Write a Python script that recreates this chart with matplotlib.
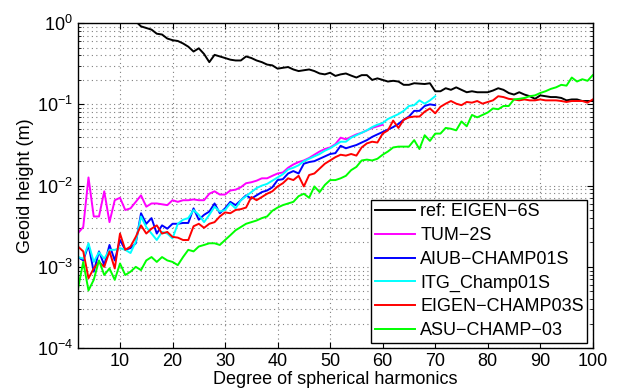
import numpy as np
import matplotlib
matplotlib.use('Agg')
from matplotlib import pyplot as plt
from matplotlib.ticker import LogLocator, NullFormatter

plt.rcParams['font.family'] = ['Liberation Sans', 'DejaVu Sans']
plt.rcParams['mathtext.fontset'] = 'custom'
plt.rcParams['mathtext.rm'] = 'Liberation Sans'
plt.rcParams['mathtext.it'] = 'Liberation Sans:italic'

# geoid degree amplitudes (m) per degree
deg_eigen6s = list(range(2, 101))
eigen6s = [3.2, 2.6, 2.2, 1.9, 1.7, 1.55, 1.45, 1.35, 1.25, 1.18, 1.1,
           1.05, 0.912, 0.871, 0.832, 0.741, 0.724, 0.646, 0.617, 0.603, 0.562,
           0.513, 0.447, 0.490, 0.417, 0.331, 0.407, 0.389, 0.372, 0.355, 0.347,
           0.347, 0.389, 0.372, 0.347, 0.331, 0.309, 0.302, 0.275, 0.282, 0.288,
           0.269, 0.257, 0.263, 0.269, 0.257, 0.240, 0.234, 0.245, 0.224, 0.234,
           0.240, 0.226, 0.214, 0.229, 0.229, 0.200, 0.209, 0.200, 0.191, 0.195,
           0.191, 0.174, 0.174, 0.182, 0.180, 0.178, 0.182, 0.145, 0.145, 0.158,
           0.151, 0.162, 0.151, 0.141, 0.145, 0.141, 0.141, 0.141, 0.148, 0.158,
           0.151, 0.138, 0.132, 0.141, 0.132, 0.126, 0.117, 0.129, 0.126, 0.123,
           0.123, 0.120, 0.112, 0.115, 0.115, 0.110, 0.110, 0.110]

deg_tum2s = list(range(2, 61))
tum2s = [2.6e-3, 3.09e-3, 1.26e-2, 4.17e-3, 4.17e-3, 8.51e-3, 3.55e-3, 6.61e-3,
         7.08e-3, 5.01e-3, 5.25e-3, 6.31e-3, 7.59e-3, 5.50e-3, 6.03e-3, 6.03e-3,
         5.89e-3, 5.75e-3, 6.61e-3, 6.31e-3, 6.61e-3, 6.61e-3, 6.76e-3, 6.61e-3,
         6.61e-3, 7.94e-3, 8.51e-3, 7.76e-3, 7.76e-3, 8.71e-3, 8.91e-3, 9.55e-3,
         1.07e-2, 1.10e-2, 1.15e-2, 1.23e-2, 1.23e-2, 1.32e-2, 1.41e-2, 1.45e-2,
         1.66e-2, 1.82e-2, 1.95e-2, 2.04e-2, 2.19e-2, 2.40e-2, 2.63e-2, 2.82e-2,
         2.95e-2, 3.24e-2, 3.89e-2, 3.72e-2, 3.98e-2, 4.27e-2, 4.47e-2, 4.79e-2,
         5.13e-2, 5.37e-2, 5.62e-2]

deg_aiub = list(range(2, 71))
aiub = [1.32e-3, 1.20e-3, 1.86e-3, 8.71e-4, 1.55e-3, 1.05e-3, 1.86e-3, 1.20e-3,
        2.14e-3, 1.62e-3, 1.70e-3, 1.95e-3, 4.57e-3, 3.39e-3, 3.98e-3, 2.57e-3,
        3.24e-3, 2.95e-3, 3.39e-3, 3.39e-3, 3.47e-3, 3.47e-3, 5.25e-3, 3.80e-3,
        4.37e-3, 4.79e-3, 6.03e-3, 4.57e-3, 5.25e-3, 6.31e-3, 5.75e-3, 6.61e-3,
        7.59e-3, 6.92e-3, 7.59e-3, 8.32e-3, 8.71e-3, 9.55e-3, 1.17e-2, 1.20e-2,
        1.41e-2, 1.51e-2, 1.41e-2, 1.86e-2, 1.95e-2, 2.00e-2, 2.14e-2, 2.29e-2,
        2.45e-2, 2.51e-2, 3.09e-2, 2.88e-2, 3.02e-2, 3.16e-2, 3.39e-2, 3.63e-2,
        3.98e-2, 4.27e-2, 4.57e-2, 4.90e-2, 5.25e-2, 5.75e-2, 6.46e-2, 7.08e-2,
        8.32e-2, 8.32e-2, 9.55e-2, 1.00e-1, 9.77e-2]

deg_itg = list(range(2, 71))
itg = [1.32e-3, 1.26e-3, 1.95e-3, 1.15e-3, 1.51e-3, 1.26e-3, 1.62e-3, 1.62e-3,
       1.70e-3, 1.62e-3, 1.48e-3, 2.04e-3, 4.17e-3, 3.09e-3, 2.57e-3, 2.14e-3,
       2.69e-3, 2.57e-3, 2.24e-3, 3.39e-3, 3.80e-3, 3.98e-3, 5.01e-3, 4.37e-3,
       3.55e-3, 4.37e-3, 5.50e-3, 4.79e-3, 5.01e-3, 6.03e-3, 5.25e-3, 6.61e-3,
       7.41e-3, 8.32e-3, 9.33e-3, 1.00e-2, 1.05e-2, 1.15e-2, 1.26e-2, 1.38e-2,
       1.58e-2, 1.66e-2, 1.78e-2, 2.00e-2, 2.14e-2, 2.29e-2, 2.45e-2, 2.69e-2,
       2.88e-2, 3.16e-2, 3.47e-2, 3.47e-2, 3.89e-2, 4.17e-2, 4.47e-2, 4.79e-2,
       5.25e-2, 5.62e-2, 5.89e-2, 6.61e-2, 7.08e-2, 7.59e-2, 8.32e-2, 9.55e-2,
       9.77e-2, 1.12e-1, 1.02e-1, 1.12e-1, 1.26e-1]

deg_eigen3s = list(range(2, 101))
eigen3s = [1.78e-3, 1.55e-3, 7.24e-4, 9.55e-4, 1.15e-3, 1.00e-3, 1.55e-3, 9.55e-4,
           2.57e-3, 1.62e-3, 1.78e-3, 2.34e-3, 3.24e-3, 2.57e-3, 2.95e-3, 3.24e-3,
           2.57e-3, 2.69e-3, 2.34e-3, 2.29e-3, 2.14e-3, 2.14e-3, 3.16e-3, 3.39e-3,
           3.02e-3, 3.39e-3, 3.55e-3, 4.17e-3, 4.68e-3, 4.57e-3, 5.01e-3, 5.13e-3,
           5.37e-3, 7.24e-3, 6.61e-3, 7.24e-3, 7.94e-3, 8.51e-3, 9.77e-3, 1.07e-2,
           1.23e-2, 1.17e-2, 1.32e-2, 9.77e-3, 1.35e-2, 1.41e-2, 1.62e-2, 1.86e-2,
           2.04e-2, 2.24e-2, 2.40e-2, 2.34e-2, 2.45e-2, 2.34e-2, 2.95e-2, 3.31e-2,
           3.47e-2, 3.39e-2, 4.37e-2, 4.79e-2, 6.31e-2, 5.13e-2, 6.46e-2, 6.92e-2,
           7.08e-2, 7.08e-2, 8.13e-2, 8.91e-2, 7.76e-2, 9.33e-2, 1.02e-1, 1.10e-1,
           1.02e-1, 9.77e-2, 1.07e-1, 1.05e-1, 1.10e-1, 1.02e-1, 1.07e-1, 1.12e-1,
           1.26e-1, 1.23e-1, 1.17e-1, 1.15e-1, 1.12e-1, 1.15e-1, 1.12e-1, 1.12e-1,
           1.15e-1, 1.12e-1, 1.12e-1, 1.12e-1, 1.10e-1, 1.07e-1, 1.10e-1, 1.10e-1,
           1.10e-1, 1.05e-1, 1.15e-1]

deg_asu = list(range(2, 101))
asu = [5.37e-4, 1.15e-3, 5.13e-4, 6.92e-4, 1.20e-3, 7.94e-4, 9.55e-4, 6.92e-4,
       1.10e-3, 7.94e-4, 8.71e-4, 1.00e-3, 9.12e-4, 1.20e-3, 1.32e-3, 1.15e-3,
       1.32e-3, 1.20e-3, 1.15e-3, 1.05e-3, 1.32e-3, 1.62e-3, 1.55e-3, 1.78e-3,
       1.86e-3, 1.95e-3, 1.95e-3, 1.86e-3, 2.14e-3, 2.45e-3, 2.82e-3, 3.09e-3,
       3.39e-3, 3.55e-3, 3.72e-3, 3.98e-3, 4.17e-3, 4.90e-3, 5.37e-3, 5.75e-3,
       6.03e-3, 6.31e-3, 7.41e-3, 7.94e-3, 7.08e-3, 9.77e-3, 8.32e-3, 1.02e-2,
       1.17e-2, 1.17e-2, 1.23e-2, 1.32e-2, 1.55e-2, 1.70e-2, 2.04e-2, 2.09e-2,
       2.04e-2, 2.14e-2, 2.40e-2, 2.63e-2, 2.95e-2, 3.02e-2, 3.02e-2, 3.02e-2,
       3.63e-2, 2.82e-2, 4.17e-2, 3.55e-2, 4.37e-2, 4.37e-2, 5.13e-2, 5.01e-2,
       4.79e-2, 6.17e-2, 5.37e-2, 7.41e-2, 6.92e-2, 7.41e-2, 7.94e-2, 8.91e-2,
       8.71e-2, 9.55e-2, 9.55e-2, 1.15e-1, 1.17e-1, 1.20e-1, 1.26e-1, 1.29e-1,
       1.38e-1, 1.45e-1, 1.55e-1, 1.62e-1, 1.74e-1, 1.70e-1, 2.14e-1, 1.91e-1,
       2.04e-1, 1.95e-1, 2.29e-1]

series = [
    (deg_eigen6s, eigen6s, '#000000', 'ref: EIGEN\u22126S'),
    (deg_tum2s, tum2s, '#ff00ff', 'TUM\u22122S'),
    (deg_aiub, aiub, '#0000ff', 'AIUB\u2212CHAMP01S'),
    (deg_itg, itg, '#00ffff', 'ITG_Champ01S'),
    (deg_eigen3s, eigen3s, '#ff0000', 'EIGEN\u2212CHAMP03S'),
    (deg_asu, asu, '#00ff00', 'ASU\u2212CHAMP\u221203'),
]

fig = plt.figure(figsize=(6.34, 3.92), dpi=100)
ax = fig.add_axes([0.123, 0.112, 0.812, 0.829])

for d, v, c, name in series:
    ax.semilogy(d, v, color=c, lw=1.4, label=name)

ax.set_xlim(2, 100)
ax.set_ylim(1e-4, 1e0)
ax.set_xticks(range(10, 101, 10))
ax.yaxis.set_minor_locator(LogLocator(base=10, subs=np.arange(2, 10)))
ax.yaxis.set_minor_formatter(NullFormatter())

ax.grid(True, which='major', linestyle=(0, (1, 3)), color='0.5', lw=0.8)
ax.grid(True, which='minor', axis='y', linestyle=(0, (1, 3)), color='0.5', lw=0.8)
ax.tick_params(which='both', direction='in', top=True, right=True, labelsize=13)
ax.tick_params(which='major', length=4)
ax.tick_params(which='minor', length=2)
for s in ax.spines.values():
    s.set_linewidth(1.0)

ax.set_xlabel('Degree of spherical harmonics', fontsize=13, labelpad=1)
ax.set_ylabel('Geoid height (m)', fontsize=13, labelpad=2)

leg = ax.legend(loc='lower right', fontsize=13, fancybox=False, framealpha=1,
                edgecolor='k', handlelength=2.2, handletextpad=0.3,
                borderaxespad=0.3, labelspacing=0.37, borderpad=0.2)
leg.get_frame().set_linewidth(1.0)

fig.savefig('out.png', dpi=100)
